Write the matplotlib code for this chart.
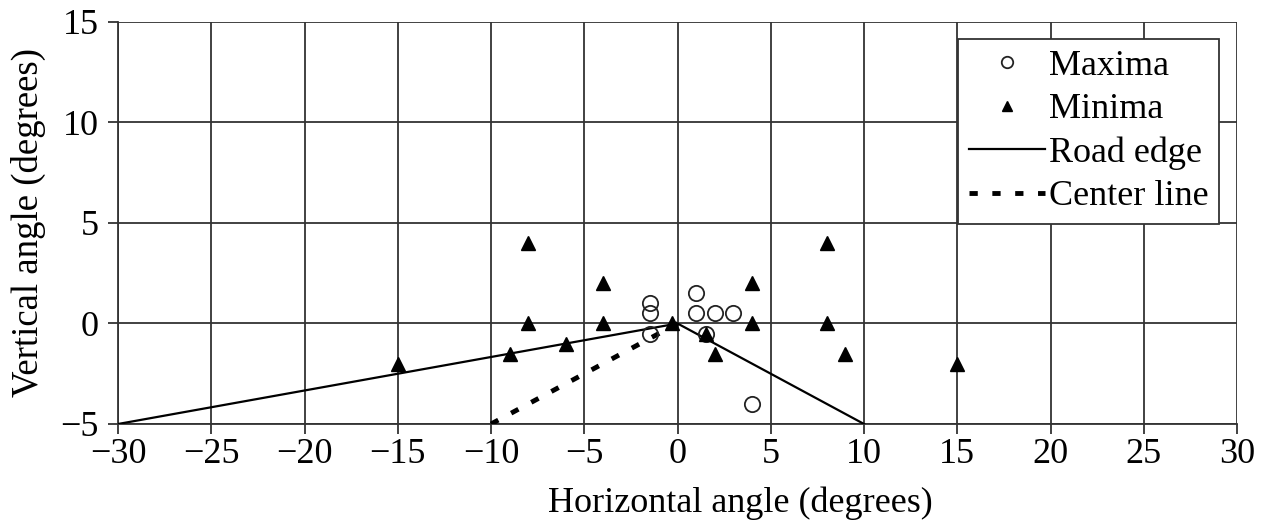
import numpy as np
import matplotlib
matplotlib.use("Agg")
import matplotlib.pyplot as plt

plt.rcParams['font.family'] = ['Liberation Serif', 'DejaVu Serif']

# data
max_x = [-1.5, -1.5, -1.5, 1, 1, 2, 3, 1.5, 4]
max_y = [1, 0.5, -0.5, 1.5, 0.5, 0.5, 0.5, -0.5, -4]

min_x = [-15, -9, -8, -8, -6, -4, -4, -0.3, 1.5, 2, 4, 4, 8, 8, 9, 15]
min_y = [-2, -1.5, 4, 0, -1, 2, 0, 0, -0.5, -1.5, 2, 0, 4, 0, -1.5, -2]

road_x = [-30, 0, 10]
road_y = [-5, 0, -5]

center_x = [-10, 0]
center_y = [-5, 0]

fig = plt.figure(figsize=(12.61, 5.23), dpi=100)
ax = fig.add_axes([0.0936, 0.1893, 0.8874, 0.7687])

ax.plot(road_x, road_y, color='black', lw=1.6, label='Road edge', zorder=3)
ax.plot(center_x, center_y, color='black', lw=3.5, linestyle=(0, (1.7, 3)),
        label='Center line', zorder=3)
ax.plot(max_x, max_y, 'o', mfc='none', mec='#222222', mew=1.3, ms=11,
        label='Maxima', zorder=4)
ax.plot(min_x, min_y, '^', color='black', ms=9.5, label='Minima', zorder=4)

ax.set_xlim(-30, 30)
ax.set_ylim(-5, 15)
ax.set_xticks(np.arange(-30, 31, 5))
ax.set_yticks(np.arange(-5, 16, 5))
ax.grid(True, color='#333333', lw=1.3)
ax.set_axisbelow(True)
for s in ['top', 'right']:
    ax.spines[s].set_visible(False)
for s in ['left', 'bottom']:
    ax.spines[s].set_color('#333333')
    ax.spines[s].set_linewidth(1.3)
ax.tick_params(direction='out', length=7, width=1.3, color='#333333',
               labelsize=26)
ax.tick_params(axis='x', pad=3)
ax.tick_params(axis='y', pad=7)

ax.set_xlabel('Horizontal angle (degrees)', fontsize=26)
ax.xaxis.set_label_coords(0.556, -0.155)
ax.set_ylabel('Vertical angle (degrees)', fontsize=26.5, labelpad=10)

# legend order: markers first, then lines
h, l = ax.get_legend_handles_labels()
order = [2, 3, 0, 1]
leg = ax.legend([h[i] for i in order], [l[i] for i in order],
                loc='upper right', bbox_to_anchor=(0.984, 0.958),
                borderaxespad=0, fontsize=26, fancybox=False, framealpha=1,
                edgecolor='#333333', handlelength=2.1, handletextpad=0.1,
                markerscale=0.75, labelspacing=0.28, borderpad=0.3)
leg.get_frame().set_linewidth(1.3)

fig.savefig('out.png', dpi=100)
